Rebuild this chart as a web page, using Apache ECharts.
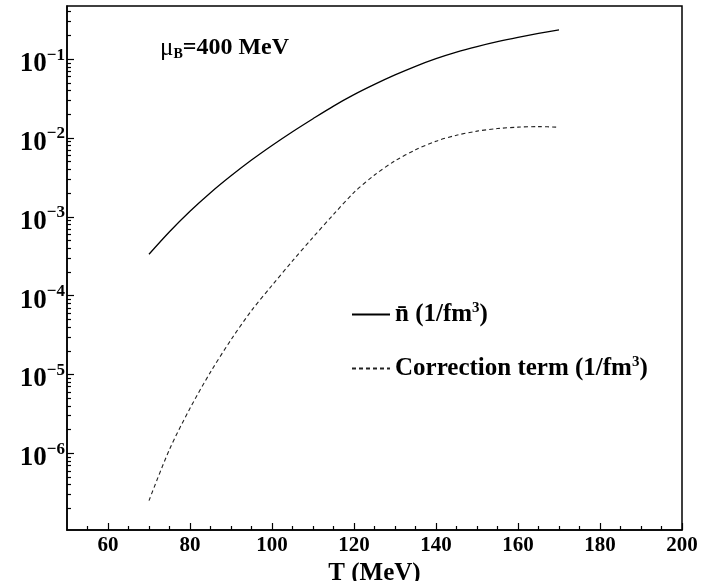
<!DOCTYPE html>
<html>
<head>
<meta charset="utf-8">
<script src="https://cdn.jsdelivr.net/npm/echarts@6/dist/echarts.min.js"></script>
<style>html,body{margin:0;padding:0;background:#fff;}#c{width:709px;height:581px;}</style>
</head>
<body>
<div id="c"></div>
<script>
// ---- data ----
var temps = [70,75,80,85,90,95,100,105,110,115,120,125,130,135,140,145,150,155,160,165,170];
var nBar = [3.35e-4,6.46e-4,1.175e-3,2.02e-3,3.31e-3,5.25e-3,8.04e-3,0.01202,0.01758,0.02541,0.03548,0.04786,0.06310,0.08128,0.1016,0.1230,0.1445,0.1667,0.1892,0.2123,0.2355];
var correction = [2.51e-7,1.122e-6,3.72e-6,1.072e-5,2.754e-5,6.46e-5,1.349e-4,2.754e-4,5.50e-4,1.072e-3,2.04e-3,3.39e-3,5.13e-3,7.08e-3,9.12e-3,0.01084,0.01222,0.01318,0.01374,0.01396,0.01371];
var seriesNames = ['nbar', 'corr'];
var xMajorTicks = [60,80,100,120,140,160,180,200];
var xMinorTicks = [55,65,70,75,85,90,95,105,110,115,125,130,135,145,150,155,165,170,175,185,190,195];
var yMajorExps = [-6,-5,-4,-3,-2,-1];
var yMin = 1.064e-7, yMax = 0.473;

var yMajorTicks = yMajorExps.map(function(e){ return Math.pow(10, e); });
var yMinorTicks = [];
for (var e = -7; e <= -1; e++) {
  for (var m = 2; m <= 9; m++) {
    var v = m * Math.pow(10, e);
    if (v > yMin && v < yMax) yMinorTicks.push(v);
  }
}
function pairs(xs, ys){ return xs.map(function(x,i){ return [x, ys[i]]; }); }

var FONT = 'Liberation Serif';
var chart = echarts.init(document.getElementById('c'), null, {renderer:'canvas'});
chart.setOption({
  animation: false,
  backgroundColor: '#fff',
  title: {
    left: 160, top: 35, padding: 0,
    text: '{mu|μ}{sub|B}{t|=400 MeV}',
    textStyle: {
      rich: {
        mu: {fontFamily: FONT, fontSize: 25, color: '#000', fontWeight: 'normal'},
        sub: {fontFamily: FONT, fontSize: 14, fontWeight: 'bold', color: '#000', padding: [12,0,0,0]},
        t: {fontFamily: FONT, fontSize: 24, fontWeight: 'bold', color: '#000'}
      }
    }
  },
  legend: {
    orient: 'vertical', left: 351, top: 301, padding: 0,
    itemWidth: 38, itemHeight: 14, itemGap: 28,
    data: seriesNames,
    itemStyle: {color: 'rgba(0,0,0,0)', borderWidth: 0, opacity: 0},
    formatter: function(name){
      if (name === 'nbar') return '{t|n\u0304 (1/fm}{s|3}{t|)}';
      return '{t|Correction term (1/fm}{s|3}{t|)}';
    },
    textStyle: {
      rich: {
        t: {fontFamily: FONT, fontSize: 25, fontWeight: 'bold', color: '#000'},
        s: {fontFamily: FONT, fontSize: 15, fontWeight: 'bold', color: '#000', padding: [0,0,12,0]}
      }
    }
  },
  grid: {left: 67, right: 27, top: 6, bottom: 51, containLabel: false, outerBoundsMode: 'none',
         show: true, borderColor: '#000', borderWidth: 1.5, backgroundColor: 'transparent'},
  xAxis: [{
    type: 'value', min: 50, max: 200,
    name: 'T (MeV)', nameLocation: 'middle', nameGap: 27,
    nameTextStyle: {fontFamily: FONT, fontSize: 25, fontWeight: 'bold', color: '#000'},
    axisLine: {show: true, lineStyle: {color: '#000', width: 1.5}},
    axisTick: {show: true, inside: true, length: 7, lineStyle: {color: '#000', width: 1.2}, customValues: xMajorTicks},
    axisLabel: {customValues: xMajorTicks, fontFamily: FONT, fontSize: 21, fontWeight: 'bold', color: '#000', margin: 5},
    splitLine: {show: false}
  }, {
    type: 'value', min: 50, max: 200, position: 'bottom',
    axisLine: {show: false},
    axisTick: {show: true, inside: true, length: 4, lineStyle: {color: '#000', width: 1.2}, customValues: xMinorTicks},
    axisLabel: {show: false},
    splitLine: {show: false}
  }],
  yAxis: [{
    type: 'log', logBase: 10, min: yMin, max: yMax,
    axisLine: {show: true, lineStyle: {color: '#000', width: 1.5}},
    axisTick: {show: true, inside: true, length: 7, lineStyle: {color: '#000', width: 1.2}, customValues: yMajorTicks},
    axisLabel: {
      customValues: yMajorTicks, margin: 2,
      formatter: function(v){
        var ex = Math.round(Math.log(v) / Math.LN10);
        return '{b|10}{s|\u2212' + Math.abs(ex) + '}';
      },
      rich: {
        b: {fontFamily: FONT, fontSize: 27, fontWeight: 'bold', color: '#000', padding: [10,0,0,0]},
        s: {fontFamily: FONT, fontSize: 17, fontWeight: 'bold', color: '#000', padding: [0,0,8,0]}
      }
    },
    splitLine: {show: false}
  }, {
    type: 'log', logBase: 10, min: yMin, max: yMax, position: 'left',
    axisLine: {show: false},
    axisTick: {show: true, inside: true, length: 4, lineStyle: {color: '#000', width: 1.2}, customValues: yMinorTicks},
    axisLabel: {show: false},
    splitLine: {show: false}
  }],
  series: [{
    name: seriesNames[0], type: 'line', xAxisIndex: 0, yAxisIndex: 0,
    data: pairs(temps, nBar), showSymbol: false, symbol: 'none', smooth: 0.3,
    lineStyle: {color: '#000', width: 1.3, type: 'solid'},
    itemStyle: {color: '#000'}
  }, {
    name: seriesNames[1], type: 'line', xAxisIndex: 0, yAxisIndex: 0,
    data: pairs(temps, correction), showSymbol: false, symbol: 'none', smooth: 0.3,
    lineStyle: {color: '#222', width: 1.1, type: [4,3]},
    itemStyle: {color: '#222'}
  }]
});
</script>
</body>
</html>
